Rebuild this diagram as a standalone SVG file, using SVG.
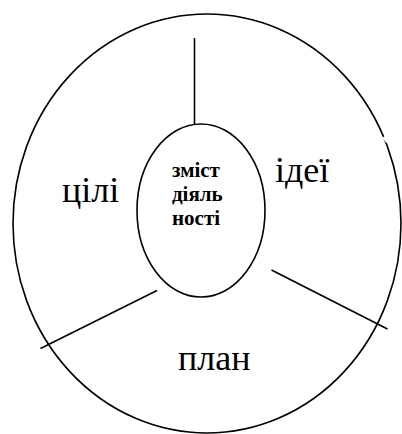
<svg xmlns="http://www.w3.org/2000/svg" width="402" height="434" viewBox="0 0 402 434">
<style>
.shape{fill:none;stroke:#000;stroke-width:1.6}
.line{stroke:#000;stroke-width:1.6;fill:none}
.big{font-family:"Liberation Serif","Times New Roman",serif;font-size:36px;fill:#000}
.small{font-family:"Liberation Serif","Times New Roman",serif;font-size:21px;font-weight:bold;fill:#000}
</style>
<rect width="402" height="434" fill="#fff"/>
<g id="outer">
<ellipse class="shape" cx="207" cy="223.5" rx="194" ry="209.5"/>
<line x1="383.5" y1="137" x2="387.5" y2="142" stroke="#fff" stroke-width="3"/>
</g>
<g id="connectors">
<line class="line" x1="194.5" y1="38" x2="194.5" y2="124"/>
<line class="line" x1="157" y1="290.5" x2="40.5" y2="348.5"/>
<line class="line" x1="271.5" y1="270" x2="387.5" y2="329"/>
</g>
<g id="center">
<ellipse class="shape" cx="201" cy="210.5" rx="64" ry="86.5"/>
<text class="small" x="172" y="177">зміст</text>
<text class="small" x="172" y="201">діяль</text>
<text class="small" x="172" y="225">ності</text>
</g>
<g id="goals"><text class="big" x="62" y="202">цілі</text></g>
<g id="ideas"><text class="big" x="275" y="182">ідеї</text></g>
<g id="plan"><text class="big" x="178" y="370">план</text></g>
</svg>
